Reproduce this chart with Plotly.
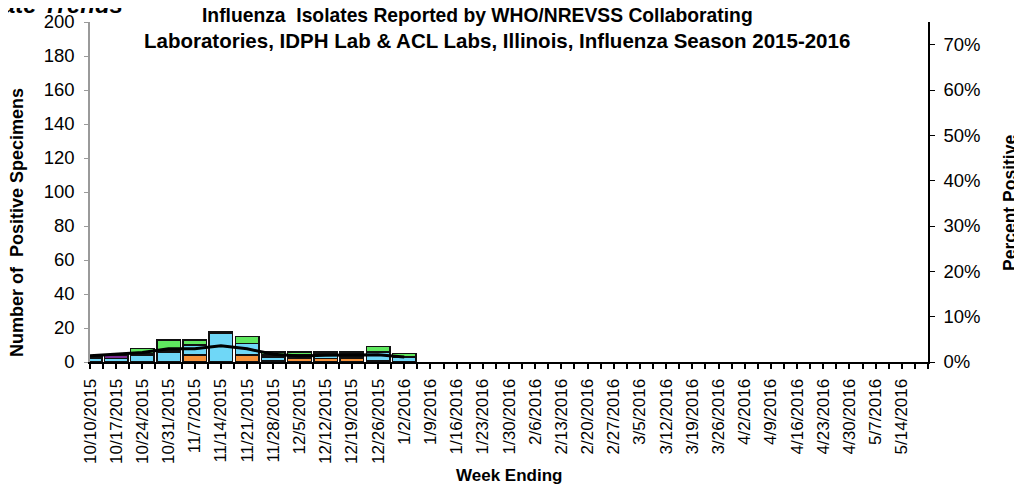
import plotly.graph_objects as go

weeks = ["10/10/2015", "10/17/2015", "10/24/2015", "10/31/2015", "11/7/2015", "11/14/2015",
         "11/21/2015", "11/28/2015", "12/5/2015", "12/12/2015", "12/19/2015", "12/26/2015",
         "1/2/2016", "1/9/2016", "1/16/2016", "1/23/2016", "1/30/2016", "2/6/2016",
         "2/13/2016", "2/20/2016", "2/27/2016", "3/5/2016", "3/12/2016", "3/19/2016",
         "3/26/2016", "4/2/2016", "4/9/2016", "4/16/2016", "4/23/2016", "4/30/2016",
         "5/7/2016", "5/14/2016"]

# Positive specimens by type (weeks with reported data)
a_h1n1 = [0, 0, 0, 0, 4, 0, 4, 1, 2, 2, 2, 1, 0]
a_h3 = [2, 2, 4, 6, 6, 17, 7, 2, 1, 2, 1, 5, 3]
a_unsub = [0, 2, 1, 1, 0, 0, 0, 1, 1, 1, 2, 0, 0]
flu_b = [1, 0, 3, 6, 3, 1, 4, 2, 2, 1, 1, 3, 2]
pct_positive = [1.4, 1.7, 2.1, 2.9, 2.9, 3.6, 2.9, 1.7, 1.3, 1.5, 1.6, 1.6, 1.1]

FONT = "Liberation Sans, Arial, sans-serif"
x_idx = list(range(len(a_h3)))

fig = go.Figure()
series = [
    ("A (H1N1)pdm09", a_h1n1, "#f7923a"),
    ("A (H3)", a_h3, "#6fd7f7"),
    ("A (Not Subtyped)", a_unsub, "#7b2a90"),
    ("B", flu_b, "#5fe85f"),
]
for name, vals, col in series:
    fig.add_trace(go.Bar(x=x_idx, y=vals, name=name, width=0.9,
                         marker=dict(color=col, line=dict(color="#111111", width=1.5))))

fig.add_trace(go.Scatter(x=x_idx, y=pct_positive, name="Percent Positive", yaxis="y2",
                         mode="lines", line=dict(color="#000000", width=3)))

# page body adds an 8px offset, so the figure is 8px smaller and shifted
fig.update_layout(
    barmode="stack",
    width=1014, height=476,
    margin=dict(l=82, r=94, t=14, b=122, autoexpand=False),
    plot_bgcolor="white", paper_bgcolor="white",
    showlegend=False,
    font=dict(family=FONT, size=18, color="#000000"),
    xaxis=dict(range=[0, 32], tickmode="array", tickvals=list(range(len(weeks))), ticktext=weeks,
               tickangle=-90, tickfont=dict(size=17), showline=True, linecolor="#000000",
               linewidth=2, ticks="outside", ticklen=5, tickwidth=2, tickcolor="#000000",
               ticklabelstandoff=3,
               minor=dict(ticks="outside", dtick=0.5, tick0=0.5, ticklen=5, tickwidth=2,
                          tickcolor="#000000"),
               showgrid=False, zeroline=False, automargin=False),
    yaxis=dict(range=[0, 200], dtick=20, showline=True, linecolor="#9a9a9a", linewidth=1.5,
               ticks="outside", ticklen=4, tickcolor="#9a9a9a", showgrid=False, zeroline=False,
               tickfont=dict(size=18.5), ticklabelstandoff=6, automargin=False),
    yaxis2=dict(range=[0, 75], tickvals=[0, 10, 20, 30, 40, 50, 60, 70],
                ticktext=["0%", "10%", "20%", "30%", "40%", "50%", "60%", "70%"],
                overlaying="y", side="right", showline=True, linecolor="#000000", linewidth=1.5,
                ticks="outside", ticklen=5, tickcolor="#000000", showgrid=False, zeroline=False,
                tickfont=dict(size=18.5), ticklabelstandoff=5, automargin=False),
)

ann = [
    dict(text="<b><i>State Trends</i></b>", x=(125 - 90) / 838, y=(362 - 5) / 340,
         xanchor="right", yanchor="middle", font=dict(size=24)),
    dict(text="<b>Influenza  Isolates Reported by WHO/NREVSS Collaborating</b>",
         x=(477 - 90) / 838, y=(362 - 15) / 340, xanchor="center", yanchor="middle",
         font=dict(size=19.3)),
    dict(text="<b>Laboratories, IDPH Lab & ACL Labs, Illinois, Influenza Season 2015-2016</b>",
         x=(497 - 90) / 838, y=(362 - 40) / 340, xanchor="center", yanchor="middle",
         font=dict(size=20.5)),
    dict(text="<b>Number of  Positive Specimens</b>", x=(17 - 90) / 838, y=(362 - 223) / 340,
         xanchor="center", yanchor="middle", textangle=-90, font=dict(size=18)),
    dict(text="<b>Percent Positive</b>", x=(1022 - 90) / 838, y=(362 - 203) / 340,
         xanchor="right", yanchor="middle", textangle=-90, font=dict(size=17.5)),
    dict(text="<b>Week Ending</b>", x=(509 - 90) / 838, y=(362 - 475) / 340,
         xanchor="center", yanchor="middle", font=dict(size=17)),
]
for a in ann:
    a.update(xref="paper", yref="paper", showarrow=False)
fig.update_layout(annotations=ann)

fig.write_html("out.html")
